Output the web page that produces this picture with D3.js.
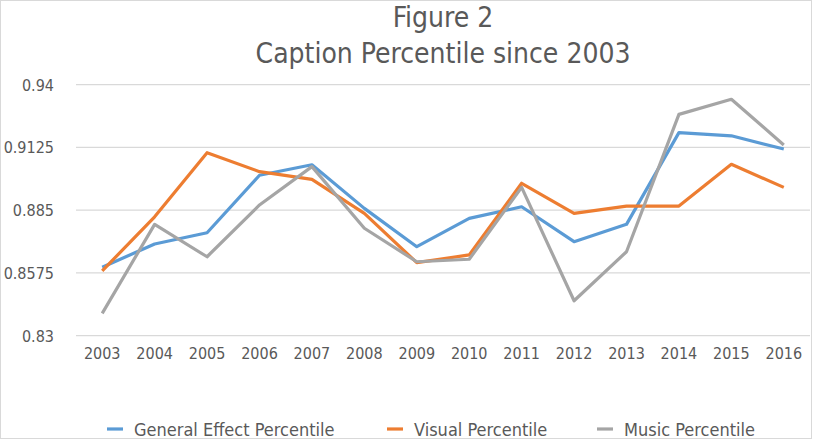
<!DOCTYPE html>
<html><head><meta charset="utf-8">
<script src="https://cdn.jsdelivr.net/npm/d3@7"></script>
<style>body{margin:0;background:#fff}svg{display:block}</style>
</head><body><svg id="c" width="814" height="440"></svg>
<script>
const years = ["2003","2004","2005","2006","2007","2008","2009","2010","2011","2012","2013","2014","2015","2016"];
const generalEffect = [0.860,0.8702,0.8751,0.9003,0.9049,0.8858,0.869,0.8814,0.8865,0.8712,0.8788,0.919,0.9176,0.9118];
const visual = [0.8584,0.8821,0.9102,0.9019,0.8985,0.8836,0.862,0.8654,0.8968,0.8836,0.8868,0.8868,0.9051,0.895];
const music = [0.8398,0.8788,0.8646,0.8873,0.9041,0.8771,0.8624,0.8635,0.895,0.8453,0.8668,0.927,0.9336,0.9136];
const yTicks = [0.83,0.8575,0.885,0.9125,0.94];
const seriesNames = ["General Effect Percentile","Visual Percentile","Music Percentile"];
const colors = ["#5B9BD5","#ED7D31","#A5A5A5"];
const series = [generalEffect, visual, music];

const font = "'DejaVu Sans Condensed','DejaVu Sans',sans-serif";
const svg = d3.select("#c");
svg.append("rect").attr("x",0.5).attr("y",0.5).attr("width",811).attr("height",438)
  .attr("fill","#fff").attr("stroke","#d9d9d9");

const x = d3.scaleBand().domain(years).range([76,810]);
const y = d3.scaleLinear().domain([0.83,0.94]).range([335.7,84.7]);

svg.append("g").selectAll("line").data(yTicks).join("line")
  .attr("x1",76).attr("x2",810).attr("y1",d=>y(d)).attr("y2",d=>y(d))
  .attr("stroke","#d9d9d9").attr("stroke-width",1.3);

svg.append("g").selectAll("text").data(yTicks).join("text")
  .attr("x",54).attr("y",d=>y(d)+6).attr("text-anchor","end")
  .attr("font-family",font).attr("font-size",16).attr("fill","#595959").text(d=>String(d));

svg.append("g").selectAll("text").data(years).join("text")
  .attr("x",d=>x(d)+x.bandwidth()/2).attr("y",359).attr("text-anchor","middle")
  .attr("font-family",font).attr("font-size",16).attr("fill","#595959").text(d=>d);

const line = d3.line().x((d,i)=>x(years[i])+x.bandwidth()/2).y(d=>y(d));
series.forEach((s,k)=>{
  svg.append("path").datum(s).attr("d",line).attr("fill","none")
    .attr("stroke",colors[k]).attr("stroke-width",3.2).attr("stroke-linejoin","round");
});

const tx = 443;
svg.append("text").attr("x",tx).attr("y",27).attr("text-anchor","middle")
  .attr("font-family",font).attr("font-size",28).attr("fill","#595959").text("Figure 2");
svg.append("text").attr("x",tx).attr("y",63).attr("text-anchor","middle")
  .attr("font-family",font).attr("font-size",28).attr("fill","#595959").text("Caption Percentile since 2003");

const legX = [107,387,597];
const lg = svg.append("g").selectAll("g").data(seriesNames).join("g");
lg.append("line").attr("x1",(d,i)=>legX[i]).attr("x2",(d,i)=>legX[i]+16)
  .attr("y1",429).attr("y2",429).attr("stroke",(d,i)=>colors[i]).attr("stroke-width",3.2);
lg.append("text").attr("x",(d,i)=>legX[i]+27).attr("y",436)
  .attr("font-family",font).attr("font-size",18).attr("fill","#595959").text(d=>d);
</script></body></html>
